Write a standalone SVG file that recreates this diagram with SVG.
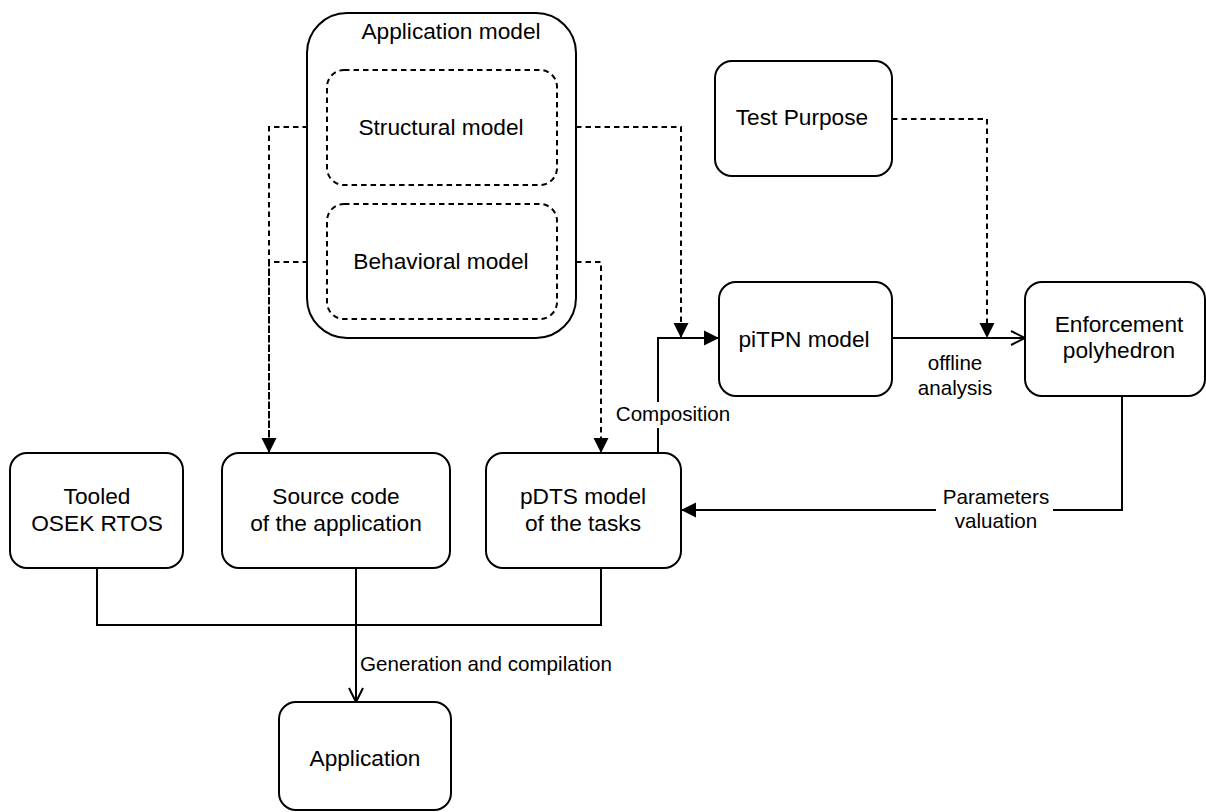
<svg xmlns="http://www.w3.org/2000/svg" width="1206" height="812" viewBox="0 0 1206 812">
<style>
  .box { fill: #ffffff; stroke: #000000; stroke-width: 2; }
  .dbox { fill: #ffffff; stroke: #000000; stroke-width: 2; stroke-dasharray: 5.5 4; }
  .nt { font-family: "Liberation Sans", Arial, Helvetica, sans-serif; font-size: 22.7px; fill: #000000; text-anchor: middle; }
  .et { font-family: "Liberation Sans", Arial, Helvetica, sans-serif; font-size: 20.6px; fill: #000000; text-anchor: middle; }
  .ln { fill: none; stroke: #000000; stroke-width: 2; }
  .dl { fill: none; stroke: #000000; stroke-width: 2; stroke-dasharray: 5.5 4; }
</style>
<defs>
  <marker id="block" markerUnits="userSpaceOnUse" markerWidth="16" markerHeight="16" refX="15" refY="7.5" orient="auto" overflow="visible">
    <path d="M0,0 L15,7.5 L0,15 Z" fill="#000000" stroke="none"/>
  </marker>
  <marker id="open" markerUnits="userSpaceOnUse" markerWidth="18" markerHeight="16" refX="15" refY="7" orient="auto" overflow="visible">
    <path d="M1,0 L15,7 L1,14" fill="none" stroke="#000000" stroke-width="2"/>
  </marker>
</defs>
<rect width="1206" height="812" fill="#ffffff"/>

<g id="connectors">
  <path class="dl" d="M327,127 H269 V453" marker-end="url(#block)"/>
  <path class="dl" d="M327,262 H269 V453"/>
  <path class="dl" d="M557,127 H681 V338" marker-end="url(#block)"/>
  <path class="dl" d="M557,262 H601 V453" marker-end="url(#block)"/>
  <path class="dl" d="M892,119 H987 V338" marker-end="url(#block)"/>
  <path class="ln" d="M892,338 H1025" marker-end="url(#open)"/>
  <path class="ln" d="M658,453 V338 H719" marker-end="url(#block)"/>
  <path class="ln" d="M1122,396 V510 H681" marker-end="url(#block)"/>
  <path class="ln" d="M97,568 V625 H356 V702" marker-end="url(#open)"/>
  <path class="ln" d="M356,568 V702"/>
  <path class="ln" d="M601,568 V625 H356 V702"/>
  <g id="label-offline">
    <text class="et" x="955" y="370">offline</text>
    <text class="et" x="955" y="395">analysis</text>
  </g>
  <g id="label-composition">
    <rect x="615" y="402" width="117" height="26" fill="#ffffff"/>
    <text class="et" x="673" y="421">Composition</text>
  </g>
  <g id="label-parameters">
    <rect x="936" y="486" width="117" height="48" fill="#ffffff"/>
    <text class="et" x="996" y="504">Parameters</text>
    <text class="et" x="996" y="528">valuation</text>
  </g>
  <g id="label-generation">
    <text class="et" x="360" y="671" text-anchor="start" style="text-anchor:start">Generation and compilation</text>
  </g>
</g>

<g id="application-model">
  <rect class="box" x="307" y="13" width="269" height="325" rx="40" ry="40"/>
  <text class="nt" x="451" y="39">Application model</text>
</g>
<g id="structural-model">
  <rect class="dbox" x="327" y="70" width="230" height="115" rx="17" ry="17"/>
  <text class="nt" x="441" y="135">Structural model</text>
</g>
<g id="behavioral-model">
  <rect class="dbox" x="327" y="204" width="230" height="115" rx="17" ry="17"/>
  <text class="nt" x="441" y="269">Behavioral model</text>
</g>
<g id="test-purpose">
  <rect class="box" x="715" y="61" width="177" height="115" rx="17" ry="17"/>
  <text class="nt" x="802" y="125">Test Purpose</text>
</g>
<g id="pitpn-model">
  <rect class="box" x="719" y="282" width="173" height="114" rx="17" ry="17"/>
  <text class="nt" x="804" y="347">piTPN model</text>
</g>
<g id="enforcement-polyhedron">
  <rect class="box" x="1025" y="282" width="180" height="114" rx="17" ry="17"/>
  <text class="nt" x="1119" y="332">Enforcement</text>
  <text class="nt" x="1119" y="358">polyhedron</text>
</g>
<g id="tooled-osek-rtos">
  <rect class="box" x="10" y="453" width="173" height="115" rx="17" ry="17"/>
  <text class="nt" x="97" y="504">Tooled</text>
  <text class="nt" x="97" y="531">OSEK RTOS</text>
</g>
<g id="source-code">
  <rect class="box" x="222" y="453" width="228" height="115" rx="17" ry="17"/>
  <text class="nt" x="336" y="504">Source code</text>
  <text class="nt" x="336" y="531">of the application</text>
</g>
<g id="pdts-model">
  <rect class="box" x="486" y="453" width="195" height="115" rx="17" ry="17"/>
  <text class="nt" x="583" y="504">pDTS model</text>
  <text class="nt" x="583" y="531">of the tasks</text>
</g>
<g id="application">
  <rect class="box" x="279" y="702" width="172" height="108" rx="17" ry="17"/>
  <text class="nt" x="365" y="766">Application</text>
</g>
</svg>
